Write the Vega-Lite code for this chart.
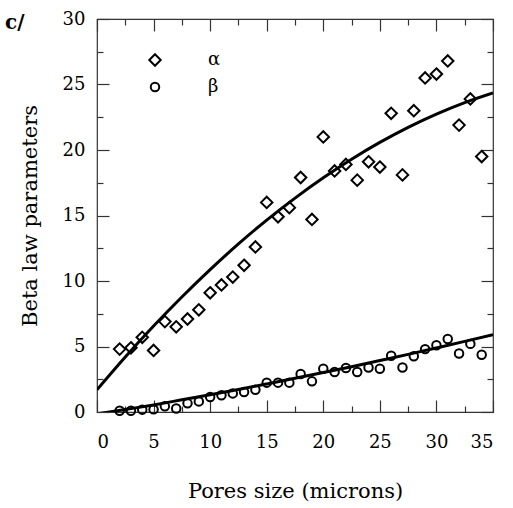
{
  "$schema": "https://vega.github.io/schema/vega-lite/v6.json",
  "width": 396,
  "height": 393,
  "autosize": {"type": "none"},
  "padding": {"left": 97, "top": 19, "right": 20, "bottom": 96},
  "config": {
    "view": {"stroke": "#333", "strokeWidth": 1.2},
    "font": "DejaVu Serif",
    "axis": {"grid": false, "domain": false, "tickColor": "#333", "tickWidth": 1.2, "labelColor": "black", "titleColor": "black", "labelFontSize": 18, "titleFontSize": 21, "titleFontWeight": "normal", "labelFont": "DejaVu Serif", "titleFont": "DejaVu Serif"}
  },
  "datasets": {
    "pts": [
      {"x": 2, "v": 4.8, "param": "α"}, {"x": 3, "v": 4.9, "param": "α"}, {"x": 4, "v": 5.7, "param": "α"}, {"x": 5, "v": 4.7, "param": "α"},
      {"x": 6, "v": 6.9, "param": "α"}, {"x": 7, "v": 6.5, "param": "α"}, {"x": 8, "v": 7.1, "param": "α"}, {"x": 9, "v": 7.8, "param": "α"},
      {"x": 10, "v": 9.1, "param": "α"}, {"x": 11, "v": 9.7, "param": "α"}, {"x": 12, "v": 10.3, "param": "α"}, {"x": 13, "v": 11.2, "param": "α"},
      {"x": 14, "v": 12.6, "param": "α"}, {"x": 15, "v": 16.0, "param": "α"}, {"x": 16, "v": 14.9, "param": "α"}, {"x": 17, "v": 15.6, "param": "α"},
      {"x": 18, "v": 17.9, "param": "α"}, {"x": 19, "v": 14.7, "param": "α"}, {"x": 20, "v": 21.0, "param": "α"}, {"x": 21, "v": 18.4, "param": "α"},
      {"x": 22, "v": 18.9, "param": "α"}, {"x": 23, "v": 17.7, "param": "α"}, {"x": 24, "v": 19.1, "param": "α"}, {"x": 25, "v": 18.7, "param": "α"},
      {"x": 26, "v": 22.8, "param": "α"}, {"x": 27, "v": 18.1, "param": "α"}, {"x": 28, "v": 23.0, "param": "α"}, {"x": 29, "v": 25.5, "param": "α"},
      {"x": 30, "v": 25.8, "param": "α"}, {"x": 31, "v": 26.8, "param": "α"}, {"x": 32, "v": 21.9, "param": "α"}, {"x": 33, "v": 23.9, "param": "α"},
      {"x": 34, "v": 19.5, "param": "α"},
      {"x": 2, "v": 0.1, "param": "β"}, {"x": 3, "v": 0.1, "param": "β"}, {"x": 4, "v": 0.18, "param": "β"}, {"x": 5, "v": 0.2, "param": "β"},
      {"x": 6, "v": 0.43, "param": "β"}, {"x": 7, "v": 0.27, "param": "β"}, {"x": 8, "v": 0.66, "param": "β"}, {"x": 9, "v": 0.81, "param": "β"},
      {"x": 10, "v": 1.14, "param": "β"}, {"x": 11, "v": 1.28, "param": "β"}, {"x": 12, "v": 1.42, "param": "β"}, {"x": 13, "v": 1.53, "param": "β"},
      {"x": 14, "v": 1.7, "param": "β"}, {"x": 15, "v": 2.24, "param": "β"}, {"x": 16, "v": 2.24, "param": "β"}, {"x": 17, "v": 2.24, "param": "β"},
      {"x": 18, "v": 2.9, "param": "β"}, {"x": 19, "v": 2.34, "param": "β"}, {"x": 20, "v": 3.3, "param": "β"}, {"x": 21, "v": 3.05, "param": "β"},
      {"x": 22, "v": 3.36, "param": "β"}, {"x": 23, "v": 3.05, "param": "β"}, {"x": 24, "v": 3.4, "param": "β"}, {"x": 25, "v": 3.3, "param": "β"},
      {"x": 26, "v": 4.3, "param": "β"}, {"x": 27, "v": 3.4, "param": "β"}, {"x": 28, "v": 4.25, "param": "β"}, {"x": 29, "v": 4.8, "param": "β"},
      {"x": 30, "v": 5.09, "param": "β"}, {"x": 31, "v": 5.57, "param": "β"}, {"x": 32, "v": 4.47, "param": "β"}, {"x": 33, "v": 5.2, "param": "β"},
      {"x": 34, "v": 4.37, "param": "β"}
    ],
    "fit": [
      {"x": 0, "v": 1.7, "param": "α"}, {"x": 2.5, "v": 4.2, "param": "α"}, {"x": 5, "v": 6.56, "param": "α"}, {"x": 7.5, "v": 8.78, "param": "α"},
      {"x": 10, "v": 10.87, "param": "α"}, {"x": 12.5, "v": 12.83, "param": "α"}, {"x": 15, "v": 14.65, "param": "α"}, {"x": 17.5, "v": 16.33, "param": "α"},
      {"x": 20, "v": 17.88, "param": "α"}, {"x": 22.5, "v": 19.3, "param": "α"}, {"x": 25, "v": 20.58, "param": "α"}, {"x": 27.5, "v": 21.73, "param": "α"},
      {"x": 30, "v": 22.74, "param": "α"}, {"x": 32.5, "v": 23.62, "param": "α"}, {"x": 35, "v": 24.36, "param": "α"},
      {"x": 0, "v": -0.15, "param": "β"}, {"x": 2.5, "v": 0.19, "param": "β"}, {"x": 5, "v": 0.54, "param": "β"}, {"x": 7.5, "v": 0.93, "param": "β"},
      {"x": 10, "v": 1.32, "param": "β"}, {"x": 12.5, "v": 1.72, "param": "β"}, {"x": 15, "v": 2.14, "param": "β"}, {"x": 17.5, "v": 2.57, "param": "β"},
      {"x": 20, "v": 3.01, "param": "β"}, {"x": 22.5, "v": 3.46, "param": "β"}, {"x": 25, "v": 3.93, "param": "β"}, {"x": 27.5, "v": 4.4, "param": "β"},
      {"x": 30, "v": 4.89, "param": "β"}, {"x": 32.5, "v": 5.39, "param": "β"}, {"x": 35, "v": 5.9, "param": "β"}
    ],
    "note": [{"x": -8.13, "v": 29.26, "t": "c/"}]
  },
  "layer": [
    {
      "data": {"name": "fit"},
      "mark": {"type": "line", "color": "black", "strokeWidth": 3, "interpolate": "monotone", "clip": true},
      "encoding": {
        "x": {"field": "x", "type": "quantitative", "scale": {"domain": [0, 35]},
          "axis": {"orient": "top", "values": [0, 2.5, 5, 7.5, 10, 12.5, 15, 17.5, 20, 22.5, 25, 27.5, 30, 32.5, 35], "labels": false, "title": null,
            "tickSize": {"condition": {"test": "datum.value % 5 === 0", "value": -12}, "value": -6}}},
        "y": {"field": "v", "type": "quantitative", "scale": {"domain": [0, 30]},
          "axis": {"orient": "right", "values": [0, 2.5, 5, 7.5, 10, 12.5, 15, 17.5, 20, 22.5, 25, 27.5, 30], "labels": false, "title": null,
            "tickSize": {"condition": {"test": "datum.value % 5 === 0", "value": -12}, "value": -6}}},
        "detail": {"field": "param", "type": "nominal"}
      }
    },
    {
      "data": {"name": "pts"},
      "mark": {"type": "point", "filled": false, "stroke": "black", "strokeWidth": 2, "opacity": 1, "size": 72},
      "encoding": {
        "x": {"field": "x", "type": "quantitative",
          "axis": {"orient": "bottom", "values": [0, 2.5, 5, 7.5, 10, 12.5, 15, 17.5, 20, 22.5, 25, 27.5, 30, 32.5, 35],
            "labelExpr": "datum.value % 5 === 0 ? datum.label : ''", "labelPadding": 33, "title": "Pores size (microns)", "titlePadding": 29,
            "tickSize": {"condition": {"test": "datum.value % 5 === 0", "value": -12}, "value": -6}}},
        "y": {"field": "v", "type": "quantitative",
          "axis": {"orient": "left", "values": [0, 2.5, 5, 7.5, 10, 12.5, 15, 17.5, 20, 22.5, 25, 27.5, 30],
            "labelExpr": "datum.value % 5 === 0 ? datum.label : ''", "labelPadding": 24, "title": "Beta law parameters", "titlePadding": 22,
            "tickSize": {"condition": {"test": "datum.value % 5 === 0", "value": -12}, "value": -6}}},
        "shape": {"field": "param", "type": "nominal",
          "scale": {"domain": ["α", "β"], "range": ["M0,-1.35L1.35,0L0,1.35L-1.35,0Z", "circle"]},
          "legend": {"orient": "none", "legendX": 49, "legendY": 32, "title": null, "labelFontSize": 18, "labelFont": "DejaVu Serif", "labelOffset": 44,
            "symbolSize": 72, "symbolStrokeWidth": 2, "symbolStrokeColor": "black", "symbolFillColor": "transparent", "rowPadding": 8}}
      }
    },
    {
      "data": {"name": "note"},
      "mark": {"type": "text", "align": "left", "baseline": "alphabetic", "fontSize": 20, "fontWeight": "bold", "font": "DejaVu Serif", "color": "black", "clip": false},
      "encoding": {
        "x": {"field": "x", "type": "quantitative", "axis": null},
        "y": {"field": "v", "type": "quantitative", "axis": null},
        "text": {"field": "t"}
      }
    }
  ],
  "resolve": {"axis": {"x": "independent", "y": "independent"}}
}
